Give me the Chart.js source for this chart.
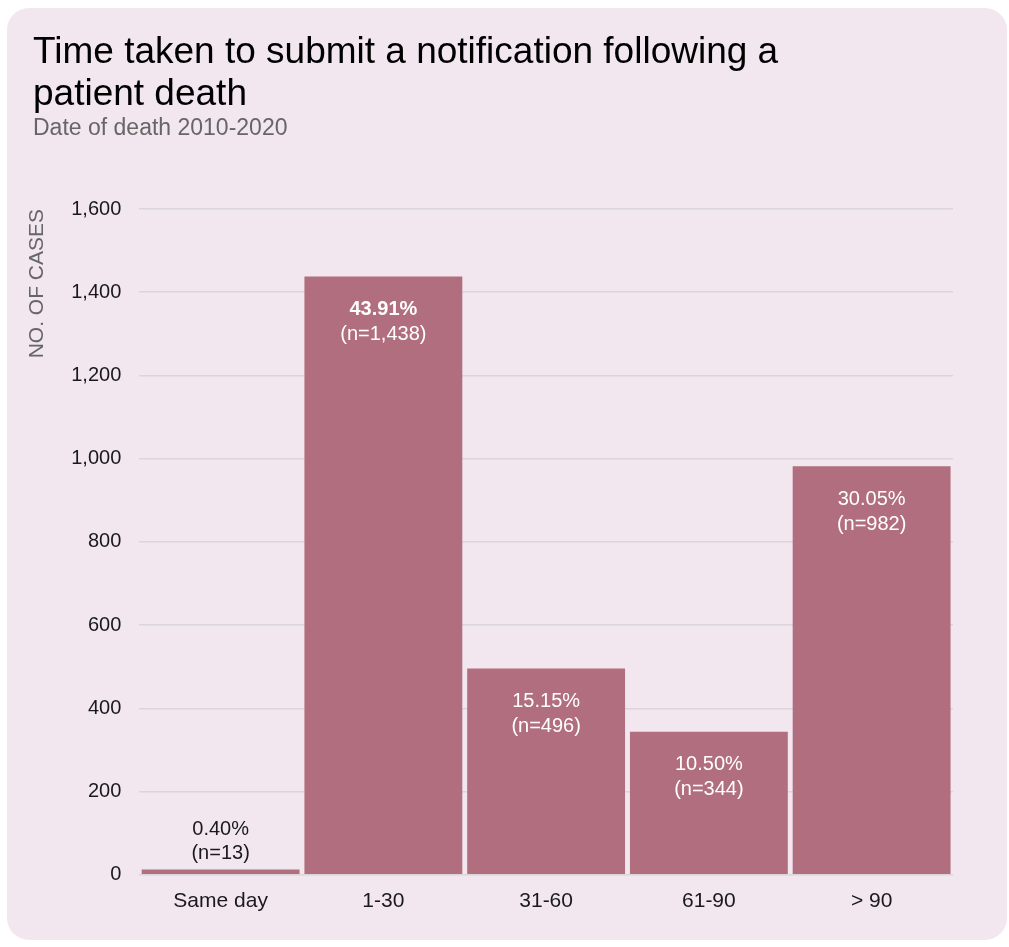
<!DOCTYPE html>
<html>
<head>
<meta charset="utf-8">
<script src="https://cdn.jsdelivr.net/npm/chart.js@4"></script>
<style>
  html, body { margin: 0; padding: 0; background: #fff; }
  .card {
    position: absolute; left: 7px; top: 8px; width: 1000px; height: 932px;
    background: #f2e7ef; border-radius: 22px; overflow: hidden;
    font-family: Arial, "Liberation Sans", sans-serif;
  }
  .title {
    position: absolute; left: 26px; top: 22px; margin: 0;
    font-size: 37px; line-height: 42px; font-weight: normal; color: #000;
  }
  .subtitle {
    position: absolute; left: 26px; top: 106px; margin: 0;
    font-size: 23px; line-height: 27px; color: #666;
  }
  canvas { position: absolute; left: 0; top: 0; display: block; }
</style>
</head>
<body>
<div class="card">
  <canvas id="chart" width="1000" height="932"></canvas>
  <h1 class="title">Time taken to submit a notification following a<br>patient death</h1>
  <p class="subtitle">Date of death 2010-2020</p>
</div>
<script>
const categories = ['Same day', '1-30', '31-60', '61-90', '> 90'];
const cases = [13, 1438, 496, 344, 982];
const shares = ['0.40%', '43.91%', '15.15%', '10.50%', '30.05%'];

const barColor = '#b06e7e';
const FONT = 'Arial, "Liberation Sans", sans-serif';

// writes "xx.xx%" and "(n=...)" on each bar, above it when the bar is too short
const barLabels = {
    id: 'barLabels',
    afterDatasetsDraw(chart) {
        const ctx = chart.ctx;
        const bars = chart.getDatasetMeta(0).data;
        const top = Math.max(...cases);
        ctx.save();
        ctx.textAlign = 'center';
        ctx.textBaseline = 'middle';
        bars.forEach((bar, i) => {
            const h = bar.base - bar.y;
            const n = '(n=' + cases[i].toLocaleString('en-US') + ')';
            const bold = cases[i] === top;
            let y1, y2;
            if (h < 80) {
                ctx.fillStyle = '#1a1a1a';
                y2 = bar.y - 16;
                y1 = y2 - 24;
            } else {
                ctx.fillStyle = '#ffffff';
                y1 = bar.y + 33;
                y2 = y1 + 25;
            }
            ctx.font = (bold ? 'bold ' : '') + '20px ' + FONT;
            ctx.fillText(shares[i], bar.x, y1);
            ctx.font = '20px ' + FONT;
            ctx.fillText(n, bar.x, y2);
        });
        ctx.restore();
    }
};

function renderChart() {
    const ctx = document.getElementById('chart').getContext('2d');
    new Chart(ctx, {
        type: 'bar',
        data: {
            labels: categories,
            datasets: [{
                data: cases,
                backgroundColor: barColor,
                borderWidth: 0,
                barPercentage: 0.97,
                categoryPercentage: 1
            }]
        },
        options: {
            responsive: false,
            animation: false,
            layout: { padding: { left: 14, right: 54, top: 201, bottom: 12 } },
            plugins: {
                legend: { display: false },
                tooltip: { enabled: false }
            },
            scales: {
                x: {
                    grid: { display: false, drawTicks: false },
                    border: { display: false },
                    ticks: { color: '#1a1a1a', font: { family: FONT, size: 21 }, padding: 14 }
                },
                y: {
                    min: 0,
                    max: 1600,
                    ticks: { stepSize: 200, color: '#1a1a1a', font: { family: FONT, size: 20 }, padding: 18 },
                    grid: { color: '#dad5d9', lineWidth: 1.5, drawTicks: false },
                    border: { display: false },
                    title: {
                        display: true,
                        text: 'NO. OF CASES',
                        align: 'end',
                        color: '#666',
                        font: { family: FONT, size: 21 },
                        padding: { top: 4, bottom: 3 }
                    }
                }
            }
        },
        plugins: [barLabels]
    });
}
renderChart();
</script>
</body>
</html>
